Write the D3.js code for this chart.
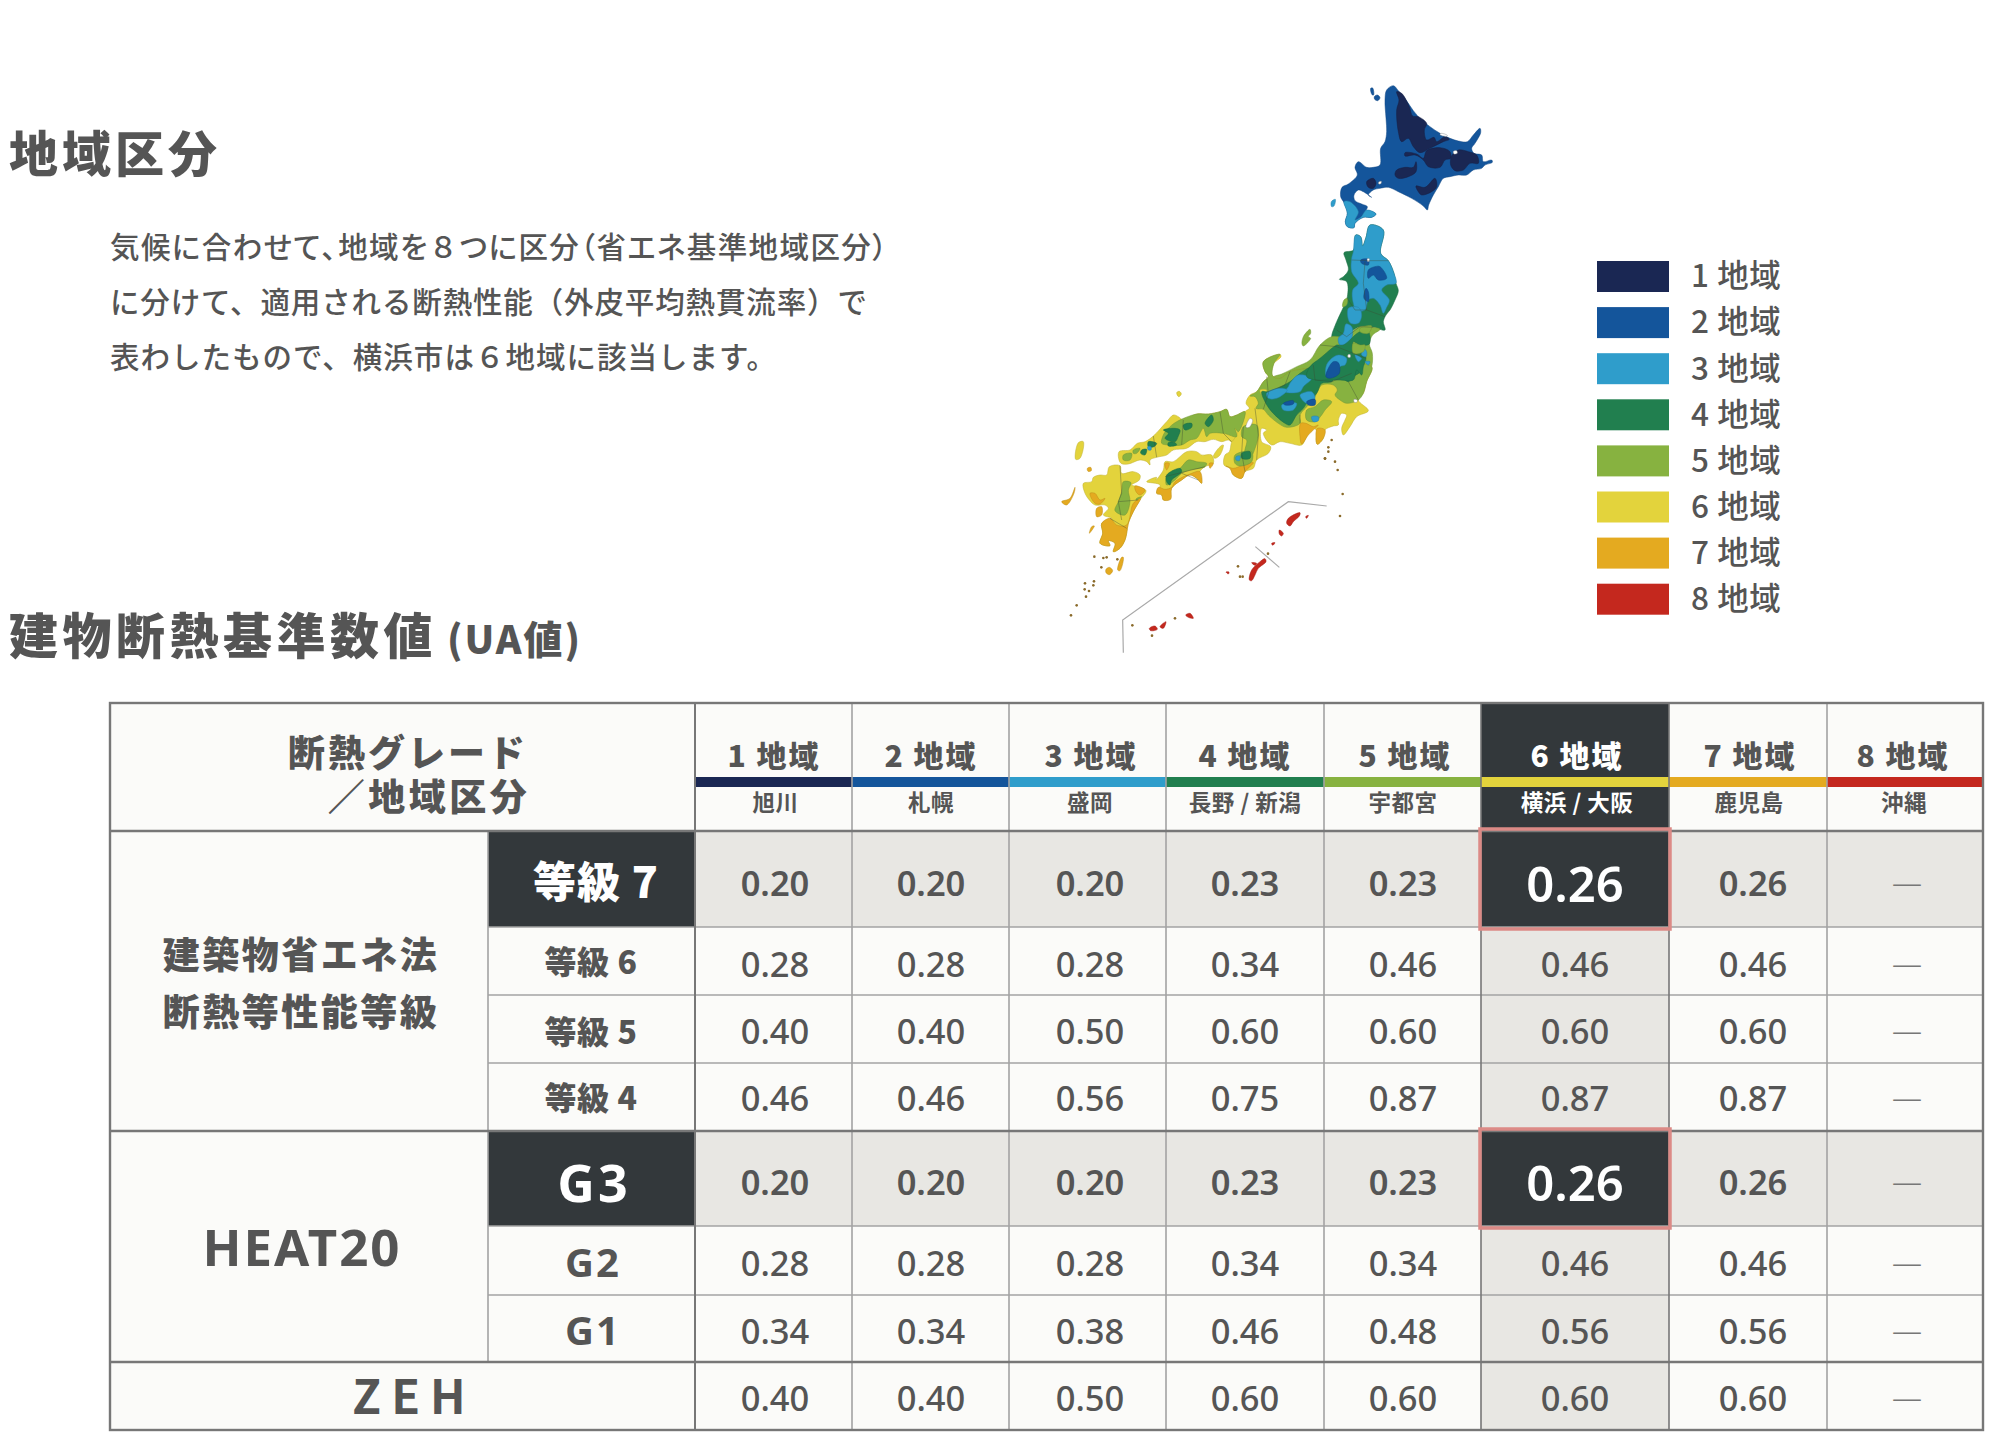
<!DOCTYPE html>
<html lang="ja">
<head>
<meta charset="utf-8">
<script src="https://cdnjs.cloudflare.com/ajax/libs/d3/7.8.5/d3.min.js"></script>
<style>
html, body { margin: 0; padding: 0; background: #fff; }
svg { display: block; }
text { font-family: "Noto Sans CJK JP", "Noto Sans", sans-serif; fill: #555; }
.num { font-family: "Noto Sans", "Open Sans", sans-serif; font-weight: 500; }
</style>
</head>
<body>
<svg id="chart" width="2000" height="1439"></svg>
<script>
// table data
var regions = ["1 地域", "2 地域", "3 地域", "4 地域", "5 地域", "6 地域", "7 地域", "8 地域"];
var cities = ["旭川", "札幌", "盛岡", "長野 / 新潟", "宇都宮", "横浜 / 大阪", "鹿児島", "沖縄"];
var zoneColors = ["#1a2753", "#14559b", "#2f9dcb", "#217f4f", "#87b240", "#e3d33c", "#e4aa20", "#c4281e"];
var rowLabels = ["等級 7", "等級 6", "等級 5", "等級 4", "G3", "G2", "G1", "ZEH"];
var grade7 = ["0.20", "0.20", "0.20", "0.23", "0.23", "0.26", "0.26", "—"];
var grade6 = ["0.28", "0.28", "0.28", "0.34", "0.46", "0.46", "0.46", "—"];
var grade5 = ["0.40", "0.40", "0.50", "0.60", "0.60", "0.60", "0.60", "—"];
var grade4 = ["0.46", "0.46", "0.56", "0.75", "0.87", "0.87", "0.87", "—"];
var heatG3 = ["0.20", "0.20", "0.20", "0.23", "0.23", "0.26", "0.26", "—"];
var heatG2 = ["0.28", "0.28", "0.28", "0.34", "0.34", "0.46", "0.46", "—"];
var heatG1 = ["0.34", "0.34", "0.38", "0.46", "0.48", "0.56", "0.56", "—"];
var zeh = ["0.40", "0.40", "0.50", "0.60", "0.60", "0.60", "0.60", "—"];
var rowValues = [grade7, grade6, grade5, grade4, heatG3, heatG2, heatG1, zeh];

var intro = ["気候に合わせて､地域を８つに区分（省エネ基準地域区分）",
    "に分けて、適用される断熱性能（外皮平均熱貫流率）で",
    "表わしたもので、横浜市は６地域に該当します。"];

// map traces, each shape is [zone, sheet, points]; sheets are the four traced map crops
var landShapes = [
    // hokkaido
    [2, "H", [[190,17],[205,32],[228,60],[250,92],[275,120],[300,140],[330,160],[360,175],[385,183],[412,185],[430,165],[450,145],[452,158],[435,190],[425,205],[432,220],[455,225],[460,245],[485,240],[487,247],[465,255],[455,265],[430,270],[410,285],[385,285],[360,290],[340,295],[325,320],[310,345],[296,375],[292,390],[280,378],[245,355],[205,335],[175,322],[150,325],[130,330],[115,345],[125,352],[100,335],[85,330],[72,345],[75,362],[95,372],[112,380],[105,395],[92,412],[110,392],[138,402],[125,412],[100,412],[75,430],[72,443],[52,440],[46,425],[52,400],[42,368],[32,350],[36,322],[55,312],[82,285],[75,262],[85,245],[110,262],[130,262],[150,255],[152,205],[165,185],[170,155],[168,115],[165,60],[170,30]]],
    [3, "H", [[42,365],[60,365],[85,395],[75,420],[92,412],[110,390],[138,402],[125,412],[100,412],[75,430],[72,443],[52,440],[46,425],[52,400]]],
    [1, "H", [[200,35],[215,40],[238,80],[248,108],[265,110],[290,130],[283,150],[290,180],[312,172],[320,185],[345,170],[358,178],[340,185],[300,205],[270,218],[250,200],[235,175],[215,185],[205,155],[200,90],[207,60]]],
    [1, "H", [[225,218],[260,222],[280,235],[290,212],[330,203],[360,215],[362,235],[345,240],[330,262],[295,260],[280,240],[255,225],[225,228]]],
    [1, "H", [[365,228],[385,210],[415,215],[440,225],[445,250],[420,250],[400,270],[375,272],[362,255]]],
    [1, "H", [[200,270],[225,262],[250,262],[258,245],[258,275],[235,290],[205,295],[195,285]]],
    [1, "H", [[258,318],[285,322],[315,295],[320,320],[305,335],[275,345],[265,335]]],
    [1, "H", [[110,305],[130,295],[138,310],[130,325],[115,322]]],
    [2, "H", [[122,25],[128,24],[131,45],[126,44]]],
    [2, "H", [[133,50],[142,45],[150,53],[143,62],[134,58]]],
    [3, "H", [[4,365],[16,358],[12,378],[5,380]]],
    // tohoku, base colours first
    [4, "T", [[347,45],[362,50],[368,78],[378,52],[390,15],[430,30],[422,100],[445,122],[462,160],[468,190],[475,212],[465,240],[450,270],[438,285],[430,305],[435,330],[400,322],[360,320],[310,350],[280,362],[275,350],[290,305],[310,262],[322,230],[320,185],[298,178],[310,170],[325,150],[318,120],[312,98],[340,90]]],
    [3, "T", [[347,45],[362,50],[368,78],[378,52],[390,15],[430,30],[422,100],[445,122],[462,160],[468,190],[440,195],[425,210],[448,240],[440,262],[430,280],[420,255],[400,235],[385,240],[375,270],[350,272],[340,250],[338,210],[355,190],[335,155],[335,115],[340,95]]],
    [2, "T", [[362,120],[385,118],[385,135],[365,130]]],
    [2, "T", [[385,150],[405,140],[420,140],[440,175],[415,180],[400,165],[385,175]]],
    [2, "T", [[378,205],[385,215],[385,245],[372,235]]],
    [5, "T", [[312,240],[322,235],[320,255],[308,260]]],
    [3, "T", [[325,265],[355,262],[365,285],[355,310],[330,308]]],
    [5, "T", [[400,322],[420,328],[398,345],[388,372],[397,400],[395,440],[382,465],[365,490],[340,500],[300,490],[90,480],[100,470],[125,462],[170,440],[210,420],[240,375],[275,350],[310,350],[360,320]]],
    [5, "T", [[190,350],[210,328],[212,340],[205,350],[212,355],[190,378],[186,372]]],
    // kinki, chubu, kanto
    [6, "C", [[135,215],[148,205],[138,190],[150,165],[170,155],[190,125],[205,110],[195,95],[190,65],[240,43],[243,50],[222,70],[215,95],[218,108],[240,115],[270,95],[395,80],[515,80],[500,125],[490,160],[475,180],[505,212],[470,230],[450,260],[430,285],[425,265],[435,240],[440,225],[425,220],[415,240],[415,255],[400,258],[375,270],[370,295],[352,313],[348,295],[355,280],[340,265],[320,290],[305,315],[270,310],[240,305],[215,315],[190,280],[200,270],[185,265],[185,305],[212,320],[205,340],[170,360],[160,385],[135,395],[125,415],[100,405],[90,385],[72,375],[75,345],[88,335],[95,305]]],
    [5, "C", [[190,65],[240,43],[222,70],[218,108],[240,115],[270,95],[395,80],[515,80],[500,125],[490,160],[475,180],[440,190],[420,180],[405,165],[412,150],[400,135],[365,135],[355,150],[345,170],[330,190],[300,225],[300,250],[260,262],[235,250],[205,225],[190,208],[168,205],[175,190],[165,170],[150,168],[170,155],[190,125],[205,110],[195,95]]],
    [6, "C", [[180,150],[200,150],[190,170]]],
    [4, "C", [[185,155],[205,155],[270,125],[300,100],[340,75],[370,60],[410,50],[470,70],[480,95],[460,110],[445,125],[415,105],[395,125],[365,130],[350,160],[320,190],[310,205],[290,225],[270,255],[255,250],[215,215],[195,185]]],
    [3, "C", [[270,130],[295,105],[335,115],[310,140],[300,155],[255,155],[265,140]]],
    [3, "C", [[200,160],[235,145],[262,150],[230,175],[205,175]]],
    [3, "C", [[300,165],[335,155],[345,175],[320,190]]],
    [3, "C", [[245,195],[290,190],[280,210],[250,210]]],
    [2, "C", [[250,190],[280,182],[280,192],[255,195]]],
    [2, "C", [[320,185],[345,178],[345,195],[325,195]]],
    [5, "C", [[320,210],[345,200],[370,180],[395,185],[375,210],[365,225],[345,245],[320,240]]],
    [3, "C", [[335,230],[355,230],[355,242],[340,245]]],
    [7, "C", [[302,250],[318,250],[340,260],[355,255],[340,270],[325,285],[305,312],[300,290]]],
    [7, "C", [[352,265],[375,270],[370,295],[352,313],[348,295]]],
    [7, "C", [[78,378],[100,385],[130,375],[160,368],[135,395],[125,415],[100,405],[90,385]]],
    [5, "C", [[130,260],[170,255],[175,285],[165,325],[155,345],[135,340],[140,300],[125,290]]],
    [5, "C", [[105,345],[155,335],[155,365],[120,378],[105,370]]],
    [4, "C", [[125,340],[150,335],[150,355],[125,355]]],
    [3, "C", [[108,350],[120,348],[118,362],[108,360]]],
    // fukushima, niigata and north kanto patches go over the chubu base
    [3, "T", [[318,312],[335,320],[338,340],[330,365],[300,375],[295,355],[310,340]]],
    [4, "T", [[295,375],[310,375],[360,335],[385,335],[388,372],[360,375],[340,365],[340,395],[370,395],[378,415],[370,440],[365,465],[350,450],[340,480],[300,480],[260,480],[230,480],[200,470],[210,440],[240,415],[290,375]]],
    [3, "T", [[270,420],[295,405],[320,415],[315,435],[300,440],[290,465],[260,470],[258,440]]],
    [3, "T", [[370,385],[380,395],[378,410],[365,405]]],
    [3, "T", [[345,405],[365,415],[355,425]]],
    [3, "T", [[375,425],[390,425],[385,435]]],
    [5, "T", [[360,375],[375,375],[370,395],[340,400],[340,370]]],
    [5, "T", [[360,325],[395,318],[385,340],[360,335]]],
    [2, "T", [[280,425],[295,428],[298,460],[270,475],[258,470],[265,445]]],
    // chugoku
    [6, "W", [[207,155],[215,152],[240,150],[262,130],[285,125],[310,108],[350,65],[370,45],[385,50],[400,60],[440,42],[475,42],[510,35],[530,28],[540,50],[560,45],[585,35],[545,125],[535,120],[515,125],[490,118],[465,125],[440,125],[410,145],[370,150],[350,165],[320,172],[300,180],[300,195],[290,185],[270,180],[235,192],[213,190],[205,170]]],
    [5, "W", [[355,85],[380,65],[440,42],[475,42],[510,35],[530,28],[540,50],[560,45],[585,35],[565,95],[555,85],[560,110],[520,100],[480,100],[470,110],[460,85],[440,115],[420,120],[395,135],[355,135],[335,130],[340,105]]],
    [5, "W", [[220,165],[245,160],[240,180],[220,180]]],
    [5, "W", [[250,150],[270,145],[260,160],[250,160]]],
    [4, "W", [[340,90],[375,85],[390,90],[385,108],[375,125],[345,115],[355,100]]],
    [4, "W", [[400,75],[425,70],[425,82],[405,90]]],
    [4, "W", [[465,70],[485,45],[490,60],[475,80]]],
    [4, "W", [[275,150],[290,148],[285,165],[272,160]]],
    [4, "W", [[295,125],[320,130],[312,140],[295,140]]],
    [4, "W", [[355,128],[375,128],[380,135],[355,138]]],
    [3, "W", [[293,140],[303,140],[303,150],[295,150]]],
    // shikoku, awaji
    [6, "W", [[318,240],[340,210],[345,185],[370,185],[410,155],[440,155],[455,165],[485,165],[490,190],[465,200],[450,215],[455,250],[440,235],[420,225],[395,240],[365,265],[360,295],[340,300],[335,285],[320,280],[330,255],[290,245],[320,232]]],
    [5, "W", [[350,230],[390,205],[415,180],[440,185],[470,190],[465,200],[420,210],[395,220],[375,240],[350,255]]],
    [4, "W", [[350,225],[390,205],[395,215],[365,240],[360,255],[350,245]]],
    [7, "W", [[375,245],[420,222],[450,215],[455,250],[440,235],[420,225],[395,240],[365,265],[362,298],[340,300],[335,285],[320,280],[325,262],[345,268],[365,262]]],
    [7, "W", [[478,190],[490,190],[480,205]]],
    [7, "W", [[345,190],[358,190],[350,210]]],
    [6, "W", [[490,170],[510,140],[520,135],[510,165],[495,175]]],
    // kyushu
    [6, "W", [[178,200],[210,197],[215,220],[250,215],[270,225],[268,240],[245,255],[265,260],[288,272],[270,300],[250,335],[235,370],[230,400],[225,420],[210,445],[190,455],[195,430],[175,422],[180,437],[150,430],[158,400],[155,370],[185,355],[160,345],[175,325],[165,315],[135,315],[118,300],[105,280],[100,250],[125,245],[130,232],[150,225],[170,225]]],
    [7, "W", [[155,370],[180,355],[200,375],[230,375],[250,310],[272,295],[250,335],[235,370],[230,400],[225,420],[210,445],[190,455],[195,430],[175,422],[180,437],[150,430],[158,400]]],
    [7, "W", [[120,280],[135,280],[150,300],[165,295],[150,312],[135,310]]],
    [7, "W", [[255,258],[285,270],[270,285],[258,275]]],
    [7, "W", [[140,325],[155,320],[155,345],[140,350]]],
    [5, "W", [[220,245],[243,248],[235,270],[240,305],[225,345],[195,332],[205,305],[215,275]]],
    [5, "W", [[260,295],[275,290],[258,300]]],
    [6, "W", [[85,128],[100,125],[90,175],[77,178]]],
    [7, "W", [[35,305],[60,295],[75,262],[72,280],[50,315]]],
    [7, "W", [[112,205],[122,202],[124,212],[114,214]]],
    [7, "W", [[125,380],[133,378],[118,400]]],
    // southern islands, okinawa inset
    [7, "O", [[245,592],[250,592],[240,632],[233,630]]],
    [7, "O", [[198,628],[208,622],[218,632],[208,644],[198,638]]],
    [6, "O", [[410,98],[418,94],[424,102],[416,110]]],
    [8, "O", [[740,490],[745,475],[780,458],[778,468],[760,485],[750,498]]],
    [8, "O", [[718,510],[730,520],[725,528],[718,522]]],
    [8, "O", [[695,550],[705,548],[698,556]]],
    [8, "O", [[797,470],[805,466],[800,475]]],
    [8, "O", [[628,660],[635,630],[660,605],[675,596],[678,605],[655,625],[645,645],[635,662]]],
    [8, "O", [[635,608],[650,610],[645,616]]],
    [8, "O", [[558,636],[567,636],[565,642]]],
    [8, "O", [[328,805],[345,798],[352,808],[332,812]]],
    [8, "O", [[360,800],[378,785],[370,805]]],
    [8, "O", [[437,765],[450,760],[460,775],[445,772]]]
];
// lakes are cut out of the land in white
var lakes = [
    ["C", [[150,235],[158,240],[148,262],[138,262]]],
    ["H", [[332,160],[352,166],[350,169],[330,164]]],
    ["H", [[370,214],[380,212],[382,220],[372,222]]],
    ["H", [[146,306],[154,304],[153,311],[146,312]]],
    ["T", [[382,116],[388,116],[388,124],[382,124]]],
    ["T", [[324,404],[331,404],[331,412],[324,412]]],
    ["C", [[462,178],[472,180],[470,187],[462,186]]]
];
// prefecture borders and the inset frame
var borderLines = [
    ["T", [[335,120],[385,122],[445,122]]], ["T", [[375,125],[370,190],[380,270]]], ["T", [[322,235],[345,270],[380,270],[435,290]]],
    ["T", [[290,330],[320,350],[360,320],[400,322]]], ["T", [[240,375],[290,380],[340,400],[378,415]]],
    ["C", [[200,110],[205,160],[190,208]]], ["C", [[270,95],[255,135],[205,155]]], ["C", [[340,75],[345,120],[395,125],[455,100]]],
    ["C", [[300,225],[300,250]]], ["C", [[130,260],[125,340],[135,395]]], ["C", [[165,205],[175,285],[170,360]]], ["C", [[445,125],[475,180]]],
    ["W", [[400,60],[395,135]]], ["W", [[510,35],[520,100],[545,125]]], ["W", [[310,108],[320,172]]],
    ["W", [[210,197],[215,280],[205,305],[215,360]]], ["W", [[205,305],[265,300]]], ["W", [[180,355],[230,385]]], ["W", [[345,230],[465,200]]], ["W", [[395,220],[445,240]]]
];
var insetFrame = [[[250,878],[248,780],[745,425],[860,438]], [[646,560],[718,622]]];
var islets = [["C",395,300],["C",385,335],["C",375,355],["C",405,365],["C",413,390],["C",428,462],
    ["O",163,590],["O",190,594],["O",200,592],["O",232,598],["O",184,622],["O",135,670],["O",162,664],["O",160,676],["O",134,688],["O",147,693],["O",138,710],["O",110,736],["O",93,766],
    ["O",865,262],["O",855,296],["O",900,468],["O",277,796],["O",336,827],["O",405,775],["O",600,650],["O",608,650],["O",594,619],["O",684,581]];

// crop origin of each traced sheet, in page pixels
var sheetOrigin = { H: [1330, 80], T: [1240, 220], C: [1200, 340], W: [1050, 400], O: [1040, 360] };
function sheetScales(name) {
    var o = sheetOrigin[name];
    return {
        x: d3.scaleLinear().domain([0, 3]).range([o[0], o[0] + 1]),
        y: d3.scaleLinear().domain([0, 3]).range([o[1], o[1] + 1])
    };
}
function tracePath(sheet, closed) {
    var s = sheetScales(sheet);
    return d3.line().x(function (d) { return s.x(d[0]); }).y(function (d) { return s.y(d[1]); })
        .curve(closed ? d3.curveCatmullRomClosed.alpha(0.5) : d3.curveLinear);
}

var svg = d3.select("#chart");

// headings
svg.append("text").attr("x", 9).attr("y", 154).attr("dy", "0.36em")
    .style("font-size", "49px").style("font-weight", 900).style("letter-spacing", "4px").text("地域区分");
svg.append("text").attr("x", 9).attr("y", 636).attr("dy", "0.36em")
    .style("font-size", "49px").style("font-weight", 900).style("letter-spacing", "4.5px").text("建物断熱基準数値");
svg.append("text").attr("x", 447).attr("y", 640).attr("dy", "0.36em")
    .style("font-size", "39px").style("font-weight", 900).style("letter-spacing", "2px").text("(UA値)");

// first line is set tight except for the full width digit
svg.selectAll(".intro").data(intro).enter().append("text").attr("class", "intro")
    .attr("x", 110).attr("y", function (d, i) { return 247 + i * 55; }).attr("dy", "0.36em")
    .attr("textLength", function (d, i) { return [777, 757, 666][i]; }).attr("lengthAdjust", "spacing")
    .style("font-size", "29.5px").style("font-weight", 500)
    .each(function (d, i) {
        var node = d3.select(this);
        if (i !== 0) { node.text(d); return; }
        d.split(/(８)/).forEach(function (part) {
            node.append("tspan").style("font-feature-settings", part === "８" ? "normal" : '"palt"').text(part);
        });
    });

// map
var map = svg.append("g");
map.selectAll(".inset").data(insetFrame).enter().append("path").attr("class", "inset")
    .attr("d", function (d) { return tracePath("O", false)(d); })
    .attr("fill", "none").attr("stroke", "#a9a9a9").attr("stroke-width", 1.2);
map.selectAll(".land").data(landShapes).enter().append("path").attr("class", "land")
    .attr("d", function (d) { return tracePath(d[1], true)(d[2]); })
    .attr("fill", function (d) { return zoneColors[d[0] - 1]; })
    .attr("stroke", function (d) { return d3.color(zoneColors[d[0] - 1]).darker(0.5); })
    .attr("stroke-width", 0.5).attr("stroke-linejoin", "round");
map.selectAll(".lake").data(lakes).enter().append("path").attr("class", "lake")
    .attr("d", function (d) { return tracePath(d[0], true)(d[1]); })
    .attr("fill", "#fff").attr("stroke", "#777").attr("stroke-width", 0.4);
map.selectAll(".border").data(borderLines).enter().append("path").attr("class", "border")
    .attr("d", function (d) { return tracePath(d[0], false)(d[1]); })
    .attr("fill", "none").attr("stroke", "#3c4a33").attr("stroke-opacity", 0.55).attr("stroke-width", 0.7);
map.selectAll(".islet").data(islets).enter().append("circle").attr("class", "islet")
    .attr("cx", function (d) { return sheetScales(d[0]).x(d[1]); })
    .attr("cy", function (d) { return sheetScales(d[0]).y(d[2]); })
    .attr("r", 1.3).attr("fill", "#8a6a2a");

// legend
var legendY = d3.scaleBand().domain(d3.range(8)).range([261, 261 + 46.1 * 8]).paddingInner(0);
var legend = svg.selectAll(".legend").data(regions).enter().append("g").attr("class", "legend")
    .attr("transform", function (d, i) { return "translate(0," + legendY(i) + ")"; });
legend.append("rect").attr("x", 1597).attr("width", 72).attr("height", 31)
    .attr("fill", function (d, i) { return zoneColors[i]; });
legend.append("text").attr("x", 1691).attr("y", 15).attr("dy", "0.36em")
    .style("font-size", "31.5px").style("font-weight", 500).style("letter-spacing", "0.6px")
    .text(function (d) { return d; });

// table layout
var colEdges = [695, 852, 1009, 1166, 1324, 1481, 1669, 1827, 1983];
var rowEdges = [831, 927, 995, 1063, 1131, 1226, 1295, 1362, 1430];
var textCols = [775, 931, 1090, 1245, 1403, 1575, 1753, 1907];
var textRows = [884, 965, 1031.5, 1098.5, 1183, 1263.5, 1331.5, 1399];
var headCols = [774, 931, 1091, 1245, 1405, 1577, 1750, 1903];
var cityCols = [775.5, 931, 1090, 1245, 1403, 1577, 1749, 1904];
var labelRows = [883, 962, 1032, 1098, 1183, 1263, 1331];
var tableTop = 703, tableLeft = 110, tableRight = 1983, tableBottom = 1430, subLeft = 488;
var dark = "#33383b", shade = "#e8e7e3", paper = "#fbfbf9", lineDark = "#777", lineLight = "#a3a3a3";
var highlightCol = 5, strongRows = [0, 4];

var table = svg.append("g");
table.append("rect").attr("x", tableLeft).attr("y", tableTop)
    .attr("width", tableRight - tableLeft).attr("height", tableBottom - tableTop).attr("fill", paper);

// shaded cells
rowValues.forEach(function (vals, r) {
    vals.forEach(function (v, c) {
        var strong = strongRows.indexOf(r) >= 0;
        if (!strong && c !== highlightCol) return;
        table.append("rect").attr("x", colEdges[c]).attr("y", rowEdges[r])
            .attr("width", colEdges[c + 1] - colEdges[c]).attr("height", rowEdges[r + 1] - rowEdges[r])
            .attr("fill", strong && c === highlightCol ? dark : shade);
    });
});
strongRows.forEach(function (r) {
    table.append("rect").attr("x", subLeft).attr("y", rowEdges[r]).attr("width", colEdges[0] - subLeft)
        .attr("height", rowEdges[r + 1] - rowEdges[r]).attr("fill", dark);
});
table.append("rect").attr("x", colEdges[highlightCol]).attr("y", tableTop)
    .attr("width", colEdges[highlightCol + 1] - colEdges[highlightCol]).attr("height", rowEdges[0] - tableTop).attr("fill", dark);

// colour stripe under the region names
table.selectAll(".stripe").data(zoneColors).enter().append("rect").attr("class", "stripe")
    .attr("x", function (d, i) { return colEdges[i]; }).attr("y", 777)
    .attr("width", function (d, i) { return colEdges[i + 1] - colEdges[i]; }).attr("height", 10)
    .attr("fill", function (d) { return d; });

// grid lines
function hline(y, x1, x2, color, w) {
    table.append("line").attr("x1", x1).attr("x2", x2).attr("y1", y).attr("y2", y).attr("stroke", color).attr("stroke-width", w);
}
function vline(x, y1, y2, color, w) {
    table.append("line").attr("x1", x).attr("x2", x).attr("y1", y1).attr("y2", y2).attr("stroke", color).attr("stroke-width", w);
}
[927, 995, 1063, 1226, 1295].forEach(function (y) { hline(y, subLeft, tableRight, lineLight, 1.6); });
colEdges.slice(1, 8).forEach(function (x, i) {
    vline(x, tableTop, tableBottom, i === 4 || i === 5 ? lineDark : lineLight, 1.6);
});
vline(colEdges[0], tableTop, tableBottom, lineDark, 2);
vline(subLeft, rowEdges[0], rowEdges[7], lineLight, 1.6);
[831, 1131, 1362].forEach(function (y) { hline(y, tableLeft, tableRight, lineDark, 2.4); });
table.append("rect").attr("x", tableLeft).attr("y", tableTop)
    .attr("width", tableRight - tableLeft).attr("height", tableBottom - tableTop)
    .attr("fill", "none").attr("stroke", lineDark).attr("stroke-width", 2.4);

function label(text, x, y, size, opts) {
    opts = opts || {};
    return table.append("text").attr("x", x).attr("y", y).attr("dy", "0.36em").attr("text-anchor", "middle")
        .attr("class", opts.cls || null)
        .style("font-size", size + "px").style("font-weight", opts.weight || 900)
        .style("letter-spacing", (opts.spacing || 0) + "px")
        .style("fill", opts.fill || "#555").text(text);
}

// header
label("断熱グレード", 408, 754, 37, { spacing: 3 });
label("／地域区分", 429, 798, 37, { spacing: 3.5 });
regions.forEach(function (d, i) {
    var on = i === highlightCol;
    label(d, headCols[i], 756, 30, { spacing: 2, fill: on ? "#fff" : "#555" });
    label(cities[i], cityCols[i], 803, 22.5, { weight: 700, spacing: 0.5, fill: on ? "#fff" : "#555" });
});

// row labels
label(rowLabels[0], 596, labelRows[0], 43, { fill: "#fff", spacing: 1 });
[1, 2, 3].forEach(function (r) { label(rowLabels[r], 591, labelRows[r], 32, { spacing: 0.5 }); });
label(rowLabels[4], 594, labelRows[4], 52, { cls: "num", weight: 700, fill: "#fff", spacing: 3 });
label(rowLabels[5], 593, labelRows[5], 40, { cls: "num", weight: 700, spacing: 2 });
label(rowLabels[6], 593, labelRows[6], 40, { cls: "num", weight: 700, spacing: 2 });
label(rowLabels[7], 414, 1397, 47, { weight: 700, spacing: 10 });
label("建築物省エネ法", 301, 956, 37, { spacing: 2.5 });
label("断熱等性能等級", 301, 1013, 37, { spacing: 2.5 });
label("HEAT20", 302, 1248, 51, { cls: "num", weight: 700, spacing: 2 });

// values
rowValues.forEach(function (vals, r) {
    vals.forEach(function (v, c) {
        var strong = strongRows.indexOf(r) >= 0;
        var hot = strong && c === highlightCol;
        var isDash = v === "—";
        var t = label(v, textCols[c], textRows[r] - (isDash ? 1.5 : 0), hot ? 49 : 34.5, {
            cls: "num", weight: hot ? 600 : strong ? 600 : 500, fill: hot ? "#fff" : "#555"
        });
        if (isDash) t.style("font-size", "30px").style("font-weight", 300).style("fill", "#777");
    });
});

// pink outline of the selected grade
strongRows.forEach(function (r) {
    table.append("rect").attr("x", colEdges[highlightCol] - 1).attr("y", rowEdges[r] - 2)
        .attr("width", colEdges[highlightCol + 1] - colEdges[highlightCol] + 2).attr("height", rowEdges[r + 1] - rowEdges[r] + 4)
        .attr("fill", "none").attr("stroke", "#dc8a86").attr("stroke-width", 3.5);
});
</script>
</body>
</html>
